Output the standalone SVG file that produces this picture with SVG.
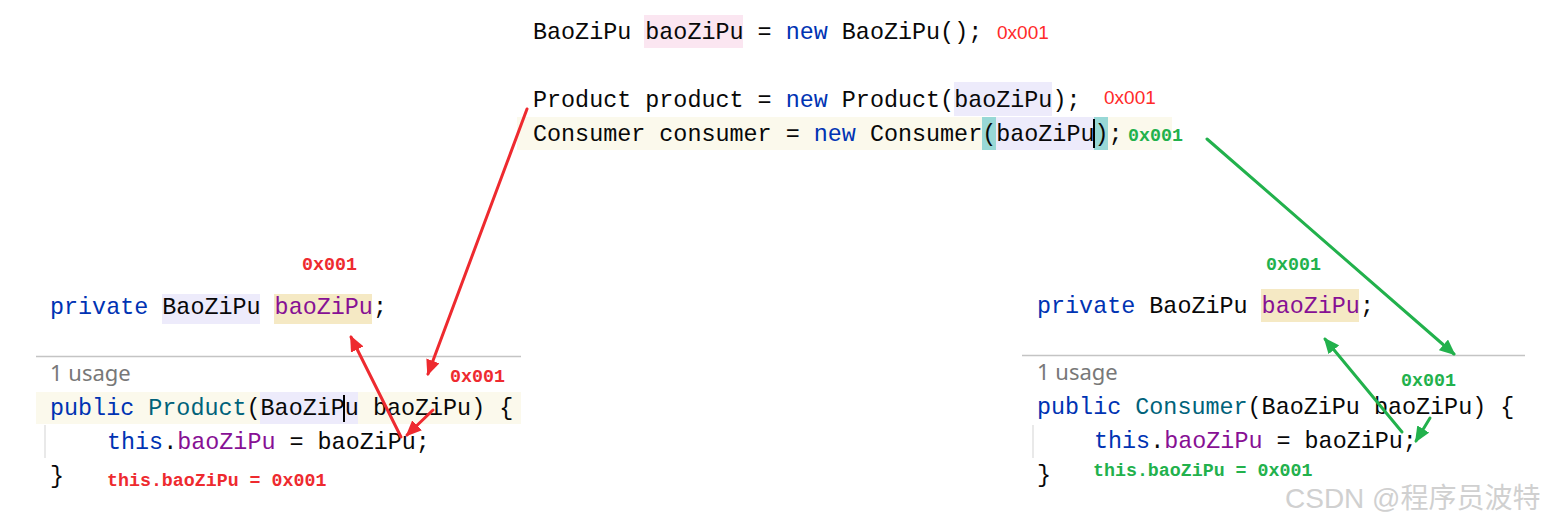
<svg xmlns="http://www.w3.org/2000/svg" width="1549" height="526" viewBox="0 0 1549 526">
<defs>
<style>
.code{font-family:"Liberation Mono","DejaVu Sans Mono",monospace;font-size:23.4px;fill:#080808;white-space:pre}
.kw{fill:#0033b3}
.fld{fill:#871094}
.cls{fill:#00627a}
.usage{font-family:"Noto Sans","Open Sans",sans-serif;font-size:22px;fill:#787878}
.lbl{font-family:"Liberation Mono","DejaVu Sans Mono",monospace;font-size:18.3px;font-weight:bold;white-space:pre}
.red{fill:#ee2a2f}
.green{fill:#22b14c}
.addr{font-family:"Liberation Sans","Noto Sans",sans-serif;font-size:19px;fill:#ff2a2a}
.lav{fill:#edebfb}
.tan{fill:#f5e9c4}
.yel{fill:#fbf9ec}
.sep{stroke:#c4c4c4;stroke-width:1.5}
.guide{stroke:#e2e2e2;stroke-width:1.5}
.cursor{stroke:#000;stroke-width:2}
.ar{fill:none;stroke-width:3;stroke-linecap:round}
</style>
<marker id="ahR" markerWidth="16" markerHeight="14" refX="14" refY="7" orient="auto" markerUnits="userSpaceOnUse"><path d="M0,0 L16,7 L0,14 Z" fill="#ee2a2f"/></marker>
<marker id="ahG" markerWidth="16" markerHeight="14" refX="14" refY="7" orient="auto" markerUnits="userSpaceOnUse"><path d="M0,0 L16,7 L0,14 Z" fill="#22b14c"/></marker>
</defs>
<rect width="1549" height="526" fill="#ffffff"/>

<g id="main-code">
<rect x="644" y="15" width="99" height="33" fill="#fbe6f1"/>
<text class="code" x="533" y="39">BaoZiPu baoZiPu = <tspan class="kw">new</tspan> BaoZiPu();</text>
<text class="addr" x="997" y="39">0x001</text>
<rect class="lav" x="954" y="82" width="98" height="34"/>
<text class="code" x="533" y="107">Product product = <tspan class="kw">new</tspan> Product(baoZiPu);</text>
<text class="addr" x="1104" y="104">0x001</text>
<rect class="yel" x="517" y="117" width="655" height="33"/>
<rect x="982" y="117" width="14" height="33" fill="#98d8d6"/>
<rect class="lav" x="996" y="117" width="98" height="33"/>
<rect x="1094" y="117" width="14" height="33" fill="#98d8d6"/>
<text class="code" x="533" y="141">Consumer consumer = <tspan class="kw">new</tspan> Consumer(baoZiPu);</text>
<line class="cursor" x1="1094" y1="119" x2="1094" y2="148"/>
<text class="lbl green" x="1128" y="141">0x001</text>
</g>

<g id="product-class">
<text class="lbl red" x="302" y="270">0x001</text>
<rect class="lav" x="162" y="294" width="98" height="30"/>
<rect class="tan" x="274" y="294" width="98" height="30"/>
<text class="code" x="50" y="314"><tspan class="kw">private</tspan> BaoZiPu <tspan class="fld">baoZiPu</tspan>;</text>
<line class="sep" x1="36" y1="356.5" x2="521" y2="356.5"/>
<text class="usage" x="50" y="381">1 usage</text>
<text class="lbl red" x="450" y="382">0x001</text>
<rect class="yel" x="36" y="392" width="485" height="32"/>
<rect class="lav" x="260" y="392" width="98" height="32"/>
<text class="code" x="50" y="415"><tspan class="kw">public</tspan> <tspan class="cls">Product</tspan>(BaoZiPu baoZiPu) {</text>
<line class="cursor" x1="344" y1="395" x2="344" y2="422"/>
<line class="guide" x1="45" y1="425" x2="45" y2="458"/>
<text class="code" x="107" y="449"><tspan class="kw">this</tspan>.<tspan class="fld">baoZiPu</tspan> = baoZiPu;</text>
<text class="code" x="50" y="483">}</text>
<text class="lbl red" x="107" y="486">this.baoZiPu = 0x001</text>
</g>

<g id="consumer-class">
<text class="lbl green" x="1266" y="270">0x001</text>
<rect class="tan" x="1261" y="289" width="98" height="33"/>
<text class="code" x="1037" y="313"><tspan class="kw">private</tspan> BaoZiPu <tspan class="fld">baoZiPu</tspan>;</text>
<line class="sep" x1="1022" y1="355.5" x2="1525" y2="355.5"/>
<text class="usage" x="1037" y="380">1 usage</text>
<text class="lbl green" x="1401" y="386">0x001</text>
<text class="code" x="1037" y="414"><tspan class="kw">public</tspan> <tspan class="cls">Consumer</tspan>(BaoZiPu baoZiPu) {</text>
<line class="guide" x1="1033" y1="425" x2="1033" y2="458"/>
<text class="code" x="1094" y="448"><tspan class="kw">this</tspan>.<tspan class="fld">baoZiPu</tspan> = baoZiPu;</text>
<text class="code" x="1037" y="482">}</text>
<text class="lbl green" x="1093" y="476">this.baoZiPu = 0x001</text>
</g>

<g id="connectors">
<line class="ar" stroke="#ee2a2f" x1="527" y1="109" x2="428" y2="374" marker-end="url(#ahR)"/>
<line class="ar" stroke="#ee2a2f" x1="401" y1="437" x2="351" y2="337" marker-end="url(#ahR)"/>
<line class="ar" stroke="#ee2a2f" x1="433" y1="410" x2="407" y2="435" marker-end="url(#ahR)"/>
<line class="ar" stroke="#22b14c" x1="1207" y1="139" x2="1454" y2="354" marker-end="url(#ahG)"/>
<line class="ar" stroke="#22b14c" x1="1402" y1="432" x2="1325" y2="339" marker-end="url(#ahG)"/>
<line class="ar" stroke="#22b14c" x1="1430" y1="418" x2="1416" y2="441" marker-end="url(#ahG)"/>
</g>

<text x="1285" y="508" font-family="'Liberation Sans','Noto Sans CJK SC',sans-serif" font-size="28" fill="#d0d0d0">CSDN @程序员波特</text>
</svg>
